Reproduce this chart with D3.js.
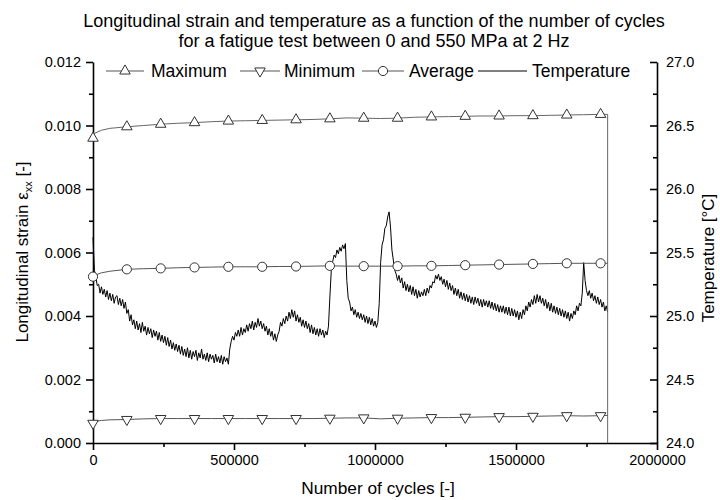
<!DOCTYPE html>
<html>
<head>
<meta charset="utf-8">
<script src="https://cdn.jsdelivr.net/npm/d3@7/dist/d3.min.js"></script>
<style>
  body { margin: 0; background: #fff; }
  text { font-family: "Liberation Sans", Arial, sans-serif; fill: #000; }
</style>
</head>
<body>
<svg id="chart" width="720" height="500"></svg>
<script>
// strain series, sampled every 60000 cycles (markers every 120000)
var strainCycles = [0, 5000, 30000, 60000, 120000, 180000, 240000, 300000, 360000, 420000, 480000,
  540000, 600000, 660000, 720000, 780000, 840000, 900000, 960000, 1020000, 1080000, 1140000,
  1200000, 1260000, 1320000, 1380000, 1440000, 1500000, 1560000, 1620000, 1680000, 1740000,
  1800000, 1825000];
var maxStrain = [0.00960, 0.00975, 0.00985, 0.00991, 0.00996, 0.01000, 0.01004, 0.01007, 0.01009,
  0.01012, 0.01014, 0.01015, 0.01016, 0.01017, 0.01018, 0.01019, 0.01021, 0.01024, 0.01023,
  0.01022, 0.01023, 0.01026, 0.01027, 0.01028, 0.01029, 0.01030, 0.01030, 0.01031, 0.01031,
  0.01032, 0.01033, 0.01034, 0.01035, 0.01035];
var minStrain = [0.00062, 0.00068, 0.00071, 0.00073, 0.00074, 0.00076, 0.00077, 0.00077, 0.00077,
  0.00077, 0.00077, 0.00077, 0.00077, 0.00077, 0.00077, 0.00077, 0.00078, 0.00079, 0.00079,
  0.00076, 0.00078, 0.00079, 0.00080, 0.00080, 0.00081, 0.00082, 0.00083, 0.00083, 0.00084,
  0.00085, 0.00086, 0.00085, 0.00086, 0.00087];
var avgStrain = [0.00524, 0.00528, 0.00536, 0.00541, 0.00547, 0.00549, 0.00550, 0.00552, 0.00553,
  0.00554, 0.00555, 0.00555, 0.00555, 0.00556, 0.00556, 0.00557, 0.00558, 0.00557, 0.00557,
  0.00557, 0.00557, 0.00558, 0.00558, 0.00559, 0.00560, 0.00561, 0.00562, 0.00563, 0.00564,
  0.00565, 0.00566, 0.00566, 0.00566, 0.00566];
// the maximum trace drops to zero when the test stops
var maxDropCycles = 1825000;
var markerStep = 120000;

// temperature, one reading every 5000 cycles (10 readings per row = 50000 cycles)
var tempStep = 5000;
var temperature = [
  25.62, 25.36, 25.31, 25.24, 25.25, 25.18, 25.23, 25.17, 25.21, 25.15,
  25.20, 25.13, 25.18, 25.12, 25.17, 25.10, 25.15, 25.16, 25.09, 25.14,
  25.08, 25.13, 25.06, 25.11, 25.02, 25.05, 24.96, 25.01, 24.93, 24.97,
  24.90, 24.96, 24.89, 24.94, 24.87, 24.95, 24.88, 24.92, 24.85, 24.91,
  24.86, 24.90, 24.83, 24.89, 24.84, 24.88, 24.81, 24.87, 24.80, 24.85,
  24.79, 24.84, 24.77, 24.83, 24.76, 24.81, 24.74, 24.79, 24.73, 24.78,
  24.72, 24.77, 24.70, 24.76, 24.69, 24.74, 24.68, 24.75, 24.67, 24.73,
  24.66, 24.72, 24.68, 24.73, 24.65, 24.71, 24.67, 24.74, 24.66, 24.70,
  24.65, 24.71, 24.64, 24.70, 24.66, 24.69, 24.63, 24.70, 24.64, 24.68,
  24.63, 24.69, 24.62, 24.68, 24.64, 24.67, 24.62, 24.74, 24.80, 24.84,
  24.81, 24.87, 24.84, 24.89, 24.84, 24.91, 24.85, 24.90, 24.87, 24.93,
  24.88, 24.94, 24.90, 24.96, 24.89, 24.95, 24.91, 24.98, 24.92, 24.96,
  24.90, 24.94, 24.88, 24.92, 24.85, 24.90, 24.84, 24.88, 24.81, 24.86,
  24.80, 24.85, 24.88, 24.95, 24.92, 24.98, 24.94, 25.00, 24.96, 25.03,
  24.98, 25.05, 24.99, 25.04, 24.96, 25.01, 24.95, 24.99, 24.92, 24.97,
  24.91, 24.96, 24.90, 24.94, 24.87, 24.93, 24.86, 24.91, 24.85, 24.90,
  24.84, 24.90, 24.85, 24.89, 24.83, 24.88, 24.85, 24.92, 25.15, 25.36,
  25.43, 25.48, 25.46, 25.52, 25.49, 25.54, 25.51, 25.56, 25.53, 25.57,
  25.28, 25.14, 25.11, 25.04, 25.07, 25.01, 25.05, 24.99, 25.03, 24.98,
  25.02, 24.97, 25.01, 24.95, 25.00, 24.94, 24.99, 24.93, 24.98, 24.92,
  24.96, 24.91, 24.95, 25.10, 25.42, 25.56, 25.60, 25.69, 25.71, 25.78,
  25.82, 25.70, 25.52, 25.44, 25.36, 25.33, 25.28, 25.32, 25.26, 25.30,
  25.22, 25.27, 25.20, 25.25, 25.19, 25.24, 25.17, 25.23, 25.16, 25.21,
  25.14, 25.20, 25.15, 25.19, 25.16, 25.21, 25.16, 25.22, 25.18, 25.24,
  25.22, 25.27, 25.26, 25.32, 25.29, 25.33, 25.28, 25.31, 25.25, 25.29,
  25.23, 25.28, 25.21, 25.26, 25.20, 25.24, 25.17, 25.22, 25.16, 25.21,
  25.14, 25.19, 25.13, 25.18, 25.12, 25.17, 25.11, 25.16, 25.10, 25.15,
  25.09, 25.15, 25.10, 25.14, 25.08, 25.13, 25.07, 25.13, 25.08, 25.12,
  25.07, 25.12, 25.06, 25.11, 25.05, 25.10, 25.04, 25.09, 25.03, 25.08,
  25.03, 25.08, 25.02, 25.07, 25.01, 25.07, 25.00, 25.06, 25.00, 25.05,
  24.99, 25.04, 24.97, 25.03, 24.98, 25.05, 25.01, 25.08, 25.04, 25.11,
  25.07, 25.13, 25.09, 25.16, 25.10, 25.17, 25.11, 25.16, 25.10, 25.14,
  25.08, 25.13, 25.06, 25.11, 25.04, 25.10, 25.03, 25.08, 25.02, 25.07,
  25.01, 25.06, 25.00, 25.05, 24.99, 25.04, 24.98, 25.03, 24.96, 25.02,
  24.98, 25.04, 25.01, 25.08, 25.04, 25.10, 25.08, 25.18, 25.42, 25.28,
  25.20, 25.16, 25.20, 25.14, 25.18, 25.12, 25.16, 25.10, 25.15, 25.09,
  25.13, 25.07, 25.11, 25.04, 25.08, 25.03];

var xTicks = [0, 500000, 1000000, 1500000, 2000000];
var strainTicks = [0, 0.002, 0.004, 0.006, 0.008, 0.010, 0.012];
var tempTicks = [24.0, 24.5, 25.0, 25.5, 26.0, 26.5, 27.0];
var legendNames = ["Maximum", "Minimum", "Average", "Temperature"];

var svg = d3.select("#chart");
var plotLeft = 93, plotRight = 657, plotTop = 62, plotBottom = 443;

var x = d3.scaleLinear().domain([0, 2000000]).range([plotLeft, plotRight]);
var yL = d3.scaleLinear().domain([0, 0.012]).range([plotBottom, plotTop]);
var yR = d3.scaleLinear().domain([24, 27]).range([plotBottom, plotTop]);

// minor ticks halfway between majors
function halves(ticks) {
  var out = [];
  for (var i = 0; i < ticks.length - 1; i++) out.push((ticks[i] + ticks[i + 1]) / 2);
  return out;
}

// ---- axes
svg.append("g").attr("transform", "translate(0," + plotBottom + ")")
  .call(d3.axisBottom(x).tickValues(xTicks).tickFormat(d3.format("d")).tickSize(7).tickSizeOuter(0).tickPadding(5));
svg.append("g").attr("transform", "translate(0," + plotBottom + ")")
  .call(d3.axisBottom(x).tickValues(halves(xTicks)).tickFormat("").tickSize(4))
  .select(".domain").remove();

svg.append("g").attr("transform", "translate(" + plotLeft + ",0)")
  .call(d3.axisLeft(yL).tickValues(strainTicks).tickFormat(d3.format(".3f")).tickSize(7).tickSizeOuter(0).tickPadding(5));
svg.append("g").attr("transform", "translate(" + plotLeft + ",0)")
  .call(d3.axisLeft(yL).tickValues(halves(strainTicks)).tickFormat("").tickSize(4))
  .select(".domain").remove();

svg.append("g").attr("transform", "translate(" + plotRight + ",0)")
  .call(d3.axisRight(yR).tickValues(tempTicks).tickFormat(d3.format(".1f")).tickSizeInner(-7).tickSizeOuter(0).tickPadding(9));
svg.append("g").attr("transform", "translate(" + plotRight + ",0)")
  .call(d3.axisRight(yR).tickValues(halves(tempTicks)).tickFormat("").tickSizeInner(-4).tickSizeOuter(0))
  .select(".domain").remove();

svg.selectAll(".domain").attr("stroke", "#000").attr("stroke-width", 1.6);
svg.selectAll(".tick line").attr("stroke", "#000").attr("stroke-width", 1.6);
svg.selectAll(".tick text").attr("font-size", 14.5).attr("fill", "#000")
  .style("font-family", "'Liberation Sans', Arial, sans-serif");

// ---- temperature trace
var tempData = temperature.map(function(t, i) { return [i * tempStep, t]; });
svg.append("path")
  .datum(tempData)
  .attr("fill", "none")
  .attr("stroke", "#000")
  .attr("stroke-width", 1)
  .attr("d", d3.line().x(function(d) { return x(d[0]); }).y(function(d) { return yR(d[1]); }));

// ---- strain traces
var strainLine = d3.line().x(function(d) { return x(d[0]); }).y(function(d) { return yL(d[1]); });
function series(vals) { return strainCycles.map(function(c, i) { return [c, vals[i]]; }); }

var maxData = series(maxStrain).concat([[maxDropCycles, 0]]);
var minData = series(minStrain);
var avgData = series(avgStrain);

svg.append("path").datum(maxData).attr("fill", "none").attr("stroke", "#666").attr("stroke-width", 1).attr("d", strainLine);
svg.append("path").datum(minData).attr("fill", "none").attr("stroke", "#555").attr("stroke-width", 1).attr("d", strainLine);
svg.append("path").datum(avgData).attr("fill", "none").attr("stroke", "#555").attr("stroke-width", 1).attr("d", strainLine);

function markers(data) { return data.filter(function(d) { return d[0] % markerStep === 0; }); }
var tri = d3.symbol().type(d3.symbolTriangle).size(48);

svg.selectAll(".mMax").data(markers(series(maxStrain))).enter().append("path")
  .attr("d", tri)
  .attr("transform", function(d) { return "translate(" + x(d[0]) + "," + yL(d[1]) + ")"; })
  .attr("fill", "#fff").attr("stroke", "#333").attr("stroke-width", 1);
svg.selectAll(".mMin").data(markers(minData)).enter().append("path")
  .attr("d", tri)
  .attr("transform", function(d) { return "translate(" + x(d[0]) + "," + yL(d[1]) + ") rotate(180)"; })
  .attr("fill", "#fff").attr("stroke", "#333").attr("stroke-width", 1);
svg.selectAll(".mAvg").data(markers(avgData)).enter().append("circle")
  .attr("cx", function(d) { return x(d[0]); })
  .attr("cy", function(d) { return yL(d[1]); })
  .attr("r", 4.6)
  .attr("fill", "#fff").attr("stroke", "#333").attr("stroke-width", 1);

// ---- legend
var legendY = 71;
var legendItems = [
  {x0: 106, x1: 144, mx: 125, tx: 151, sym: "up"},
  {x0: 240, x1: 280, mx: 260, tx: 284, sym: "down"},
  {x0: 362, x1: 404, mx: 383, tx: 409, sym: "circle"},
  {x0: 478, x1: 527, mx: null, tx: 532, sym: "none"}
];
legendItems.forEach(function(it, i) {
  var g = svg.append("g");
  g.append("line").attr("x1", it.x0).attr("x2", it.x1).attr("y1", legendY).attr("y2", legendY)
    .attr("stroke", i === 3 ? "#000" : "#555").attr("stroke-width", 1);
  if (it.sym === "up" || it.sym === "down") {
    g.append("path").attr("d", tri)
      .attr("transform", "translate(" + it.mx + "," + legendY + ")" + (it.sym === "down" ? " rotate(180)" : ""))
      .attr("fill", "#fff").attr("stroke", "#333");
  } else if (it.sym === "circle") {
    g.append("circle").attr("cx", it.mx).attr("cy", legendY).attr("r", 4.6)
      .attr("fill", "#fff").attr("stroke", "#333");
  }
  g.append("text").attr("x", it.tx).attr("y", legendY + 6).attr("font-size", 17.5).text(legendNames[i]);
});

// ---- titles
svg.append("text").attr("x", 374).attr("y", 27).attr("text-anchor", "middle").attr("font-size", 18)
  .text("Longitudinal strain and temperature as a function of the number of cycles");
svg.append("text").attr("x", 374).attr("y", 47).attr("text-anchor", "middle").attr("font-size", 18)
  .text("for a fatigue test between 0 and 550 MPa at 2 Hz");

svg.append("text").attr("x", 378).attr("y", 494).attr("text-anchor", "middle").attr("font-size", 17.3)
  .text("Number of cycles [-]");

var yt = svg.append("text").attr("transform", "translate(28,252) rotate(-90)")
  .attr("text-anchor", "middle").attr("font-size", 17);
yt.append("tspan").text("Longitudinal strain \u03b5");
yt.append("tspan").attr("font-size", 11).attr("dy", 4).text("xx");
yt.append("tspan").attr("dy", -4).text(" [-]");

svg.append("text").attr("transform", "translate(714,258) rotate(-90)")
  .attr("text-anchor", "middle").attr("font-size", 17)
  .text("Temperature [\u00b0C]");
</script>
</body>
</html>
